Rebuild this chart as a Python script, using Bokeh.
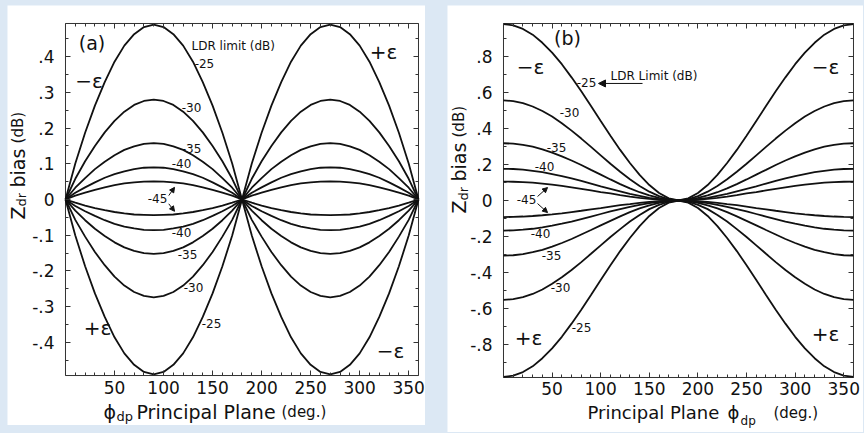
import math
from bokeh.plotting import figure
from bokeh.models import (Range1d, FixedTicker, LinearAxis, Label, Arrow,
                          NormalHead, GlobalInlineStyleSheet)
from bokeh.layouts import row
from bokeh.embed import file_html
from bokeh.resources import INLINE

# ---------------- data ----------------
phi_deg = list(range(0, 361, 10))

# panel (a): Zdr bias (dB) vs phi_dp, principal plane
a_m25_pos = [0, .101, .187, .263, .329, .386, .431, .463, .483, .490, .483, .463, .431, .386, .329, .263, .187, .101, 0,
             .101, .187, .263, .329, .386, .431, .463, .483, .490, .483, .463, .431, .386, .329, .263, .187, .101, 0]
a_m30_pos = [0, .058, .107, .150, .188, .220, .246, .265, .276, .280, .276, .265, .246, .220, .188, .150, .107, .058, 0,
             .058, .107, .150, .188, .220, .246, .265, .276, .280, .276, .265, .246, .220, .188, .150, .107, .058, 0]
a_m35_pos = [0, .033, .060, .085, .106, .124, .139, .149, .156, .158, .156, .149, .139, .124, .106, .085, .060, .033, 0,
             .033, .060, .085, .106, .124, .139, .149, .156, .158, .156, .149, .139, .124, .106, .085, .060, .033, 0]
a_m40_pos = [0, .019, .034, .048, .061, .071, .079, .085, .089, .090, .089, .085, .079, .071, .061, .048, .034, .019, 0,
             .019, .034, .048, .061, .071, .079, .085, .089, .090, .089, .085, .079, .071, .061, .048, .034, .019, 0]
a_m45_pos = [0, .011, .019, .027, .034, .040, .045, .048, .050, .051, .050, .048, .045, .040, .034, .027, .019, .011, 0,
             .011, .019, .027, .034, .040, .045, .048, .050, .051, .050, .048, .045, .040, .034, .027, .019, .011, 0]
a_m25_neg = [0, -.101, -.187, -.263, -.329, -.386, -.431, -.463, -.483, -.490, -.483, -.463, -.431, -.386, -.329, -.263, -.187, -.101, 0,
             -.101, -.187, -.263, -.329, -.386, -.431, -.463, -.483, -.490, -.483, -.463, -.431, -.386, -.329, -.263, -.187, -.101, 0]
a_m30_neg = [0, -.057, -.104, -.147, -.184, -.216, -.241, -.259, -.270, -.274, -.270, -.259, -.241, -.216, -.184, -.147, -.104, -.057, 0,
             -.057, -.104, -.147, -.184, -.216, -.241, -.259, -.270, -.274, -.270, -.259, -.241, -.216, -.184, -.147, -.104, -.057, 0]
a_m35_neg = [0, -.031, -.058, -.082, -.102, -.120, -.134, -.144, -.150, -.152, -.150, -.144, -.134, -.120, -.102, -.082, -.058, -.031, 0,
             -.031, -.058, -.082, -.102, -.120, -.134, -.144, -.150, -.152, -.150, -.144, -.134, -.120, -.102, -.082, -.058, -.031, 0]
a_m40_neg = [0, -.018, -.033, -.046, -.058, -.068, -.076, -.081, -.085, -.086, -.085, -.081, -.076, -.068, -.058, -.046, -.033, -.018, 0,
             -.018, -.033, -.046, -.058, -.068, -.076, -.081, -.085, -.086, -.085, -.081, -.076, -.068, -.058, -.046, -.033, -.018, 0]
a_m45_neg = [0, -.009, -.017, -.024, -.030, -.035, -.039, -.042, -.043, -.044, -.043, -.042, -.039, -.035, -.030, -.024, -.017, -.009, 0,
             -.009, -.017, -.024, -.030, -.035, -.039, -.042, -.043, -.044, -.043, -.042, -.039, -.035, -.030, -.024, -.017, -.009, 0]

# panel (b)
b_m25_pos = [.980, .973, .953, .921, .876, .821, .757, .684, .607, .525, .442, .360, .281, .208, .142, .086, .042, .012, 0,
             .012, .042, .086, .142, .208, .281, .360, .442, .525, .607, .684, .757, .821, .876, .921, .953, .973, .980]
b_m30_pos = [.556, .552, .541, .522, .497, .466, .429, .388, .344, .298, .251, .204, .160, .118, .081, .049, .024, .007, 0,
             .007, .024, .049, .081, .118, .160, .204, .251, .298, .344, .388, .429, .466, .497, .522, .541, .552, .556]
b_m35_pos = [.318, .316, .309, .299, .284, .266, .245, .222, .197, .170, .144, .117, .091, .067, .046, .028, .014, .004, 0,
             .004, .014, .028, .046, .067, .091, .117, .144, .170, .197, .222, .245, .266, .284, .299, .309, .316, .318]
b_m40_pos = [.176, .175, .171, .165, .157, .147, .136, .123, .109, .094, .079, .065, .051, .037, .026, .015, .008, .002, 0,
             .002, .008, .015, .026, .037, .051, .065, .079, .094, .109, .123, .136, .147, .157, .165, .171, .175, .176]
b_m45_pos = [.105, .104, .102, .099, .094, .088, .081, .073, .065, .056, .047, .039, .030, .022, .015, .009, .005, .001, 0,
             .001, .005, .009, .015, .022, .030, .039, .047, .056, .065, .073, .081, .088, .094, .099, .102, .104, .105]
b_m25_neg = [-.980, -.973, -.953, -.921, -.876, -.821, -.757, -.684, -.607, -.525, -.442, -.360, -.281, -.208, -.142, -.086, -.042, -.012, 0,
             -.012, -.042, -.086, -.142, -.208, -.281, -.360, -.442, -.525, -.607, -.684, -.757, -.821, -.876, -.921, -.953, -.973, -.980]
b_m30_neg = [-.552, -.548, -.537, -.519, -.494, -.462, -.426, -.386, -.342, -.296, -.249, -.203, -.159, -.117, -.080, -.048, -.024, -.007, 0,
             -.007, -.024, -.048, -.080, -.117, -.159, -.203, -.249, -.296, -.342, -.386, -.426, -.462, -.494, -.519, -.537, -.548, -.552]
b_m35_neg = [-.306, -.304, -.298, -.287, -.274, -.256, -.236, -.214, -.189, -.164, -.138, -.113, -.088, -.065, -.044, -.027, -.013, -.004, 0,
             -.004, -.013, -.027, -.044, -.065, -.088, -.113, -.138, -.164, -.189, -.214, -.236, -.256, -.274, -.287, -.298, -.304, -.306]
b_m40_neg = [-.167, -.166, -.162, -.157, -.149, -.140, -.129, -.117, -.103, -.089, -.075, -.061, -.048, -.035, -.024, -.015, -.007, -.002, 0,
             -.002, -.007, -.015, -.024, -.035, -.048, -.061, -.075, -.089, -.103, -.117, -.129, -.140, -.149, -.157, -.162, -.166, -.167]
b_m45_neg = [-.092, -.091, -.089, -.086, -.082, -.077, -.071, -.064, -.057, -.049, -.042, -.034, -.026, -.020, -.013, -.008, -.004, -.001, 0,
             -.001, -.004, -.008, -.013, -.020, -.026, -.034, -.042, -.049, -.057, -.064, -.071, -.077, -.082, -.086, -.089, -.091, -.092]

# axes limits and ticks
x_limits = (0, 360)
a_y_limits = (-0.493, 0.493)
b_y_limits = (-0.983, 0.983)
x_ticks = [50, 100, 150, 200, 250, 300, 350]
x_minor = list(range(0, 361, 10))
a_y_ticks = [-0.4, -0.3, -0.2, -0.1, 0, 0.1, 0.2, 0.3, 0.4]
a_y_labels = ["-.4", "-.3", "-.2", "-.1", "0", ".1", ".2", ".3", ".4"]
a_y_minor = [-0.45, -0.35, -0.25, -0.15, -0.05, 0.05, 0.15, 0.25, 0.35, 0.45]
b_y_ticks = [-0.8, -0.6, -0.4, -0.2, 0, 0.2, 0.4, 0.6, 0.8]
b_y_labels = ["-.8", "-.6", "-.4", "-.2", "0", ".2", ".4", ".6", ".8"]
b_y_minor = [-0.9, -0.7, -0.5, -0.3, -0.1, 0.1, 0.3, 0.5, 0.7, 0.9]

ldr_levels = ["-25", "-30", "-35", "-40", "-45"]

# ---------------- style ----------------
FONT = "DejaVu Sans"
INK = "#111111"
AXC = "#333333"
BG = "#dce8f4"


def tick_axis(p, loc, fixed, bounds, majors, minors, labels=None, standoff=5):
    """Axis pinned to the plot box; ticks point inwards."""
    if labels is None:
        # unlabeled mirror side: long ticks at majors, short at minors
        for pos, ln in [(majors, 5), (minors, 3)]:
            ax = LinearAxis(ticker=FixedTicker(ticks=[], minor_ticks=pos),
                            fixed_location=fixed, bounds=bounds)
            ax.axis_line_color = None
            ax.major_tick_line_color = None
            ax.minor_tick_line_color = AXC
            ax.minor_tick_in = ln
            ax.minor_tick_out = 0
            p.add_layout(ax, loc)
        return
    ax = LinearAxis(ticker=FixedTicker(ticks=majors, minor_ticks=minors),
                    fixed_location=fixed, bounds=bounds)
    ax.axis_line_color = None
    ax.major_tick_line_color = AXC
    ax.minor_tick_line_color = AXC
    ax.major_tick_in = 5
    ax.major_tick_out = 0
    ax.minor_tick_in = 3
    ax.minor_tick_out = 0
    ax.major_label_text_font = FONT
    ax.major_label_text_font_size = "17px"
    ax.major_label_text_color = INK
    ax.major_label_standoff = standoff
    if labels != "auto":
        ax.major_label_overrides = dict(zip(majors, labels))
    p.add_layout(ax, loc)


def make_panel(width, height, xr, yr, ylim, yticks, ylabels, yminor):
    p = figure(width=width, height=height, x_range=Range1d(*xr), y_range=Range1d(*yr),
               output_backend="svg", toolbar_location=None,
               x_axis_type=None, y_axis_type=None, min_border=0)
    p.background_fill_color = "white"
    p.border_fill_color = "white"
    p.outline_line_color = None
    # plot box
    p.quad(left=[x_limits[0]], right=[x_limits[1]], bottom=[ylim[0]], top=[ylim[1]],
           fill_color=None, line_color=AXC, line_width=1)
    tick_axis(p, "below", ylim[0], x_limits, x_ticks, x_minor, labels="auto", standoff=5)
    tick_axis(p, "above", ylim[1], x_limits, x_ticks, x_minor)
    tick_axis(p, "left", x_limits[0], ylim, yticks, yminor, labels=ylabels, standoff=11)
    tick_axis(p, "right", x_limits[1], ylim, yticks, yminor)
    return p


def lab(p, x, y, text, size, align="center", baseline="middle", angle=0.0, style="normal"):
    p.add_layout(Label(x=x, y=y, text=text, text_font=FONT, text_font_size=size,
                       text_align=align, text_baseline=baseline, angle=angle,
                       text_color=INK, text_font_style=style))


def arrow(p, x0, y0, x1, y1, size=5):
    p.add_layout(Arrow(end=NormalHead(size=size, fill_color=INK, line_color=INK, line_width=1),
                       x_start=x0, y_start=y0, x_end=x1, y_end=y1,
                       line_color=INK, line_width=1))


UP = math.pi / 2

# ---------------- panel (a) ----------------
pa = make_panel(418, 420, (-59.15, 367.14), (-0.633, 0.5434), a_y_limits,
                a_y_ticks, a_y_labels, a_y_minor)
for ys in [a_m25_pos, a_m30_pos, a_m35_pos, a_m40_pos, a_m45_pos,
           a_m25_neg, a_m30_neg, a_m35_neg, a_m40_neg, a_m45_neg]:
    pa.line(phi_deg, ys, line_color=INK, line_width=1.8)

lab(pa, 27.0, 0.437, "(a)", "19px")
lab(pa, 24.0, 0.333, "\u2212\u03b5", "20px")
lab(pa, 324.3, 0.412, "+\u03b5", "20px")
lab(pa, 32.6, -0.361, "+\u03b5", "20px")
lab(pa, 331.4, -0.423, "\u2212\u03b5", "20px")
lab(pa, 128.5, 0.429, "LDR limit (dB)", "12px", align="left")
for (x, y), t in zip([(141.7, 0.381), (128.5, 0.258), (128.5, 0.143), (118.3, 0.101), (93.8, 0.003)], ldr_levels):
    lab(pa, x, y, t, "12px")
for (x, y), t in zip([(148.9, -0.347), (130.5, -0.246), (124.4, -0.154), (118.3, -0.092)], ldr_levels[:4]):
    lab(pa, x, y, t, "12px")
arrow(pa, 105.3, 0.011, 111.2, 0.034)
arrow(pa, 105.3, -0.012, 111.2, -0.033)

# axis titles (a)
lab(pa, -48.95, -0.056, "Z", "19px", align="left", baseline="alphabetic", angle=UP)
lab(pa, -44.9, -0.0196, "dr", "13px", align="left", baseline="alphabetic", angle=UP)
lab(pa, -48.95, 0.0336, "bias", "19px", align="left", baseline="alphabetic", angle=UP)
lab(pa, -48.95, 0.157, "(dB)", "15px", align="left", baseline="alphabetic", angle=UP)
lab(pa, 38.75, -0.5938, "\u03d5", "19px", align="left", baseline="alphabetic")
lab(pa, 52.0, -0.6078, "dp", "13px", align="left", baseline="middle")
lab(pa, 72.4, -0.5938, "Principal Plane", "19px", align="left", baseline="alphabetic")
lab(pa, 220.3, -0.5938, "(deg.)", "15px", align="left", baseline="alphabetic")

# ---------------- panel (b) ----------------
pb = make_panel(416, 427, (-57.6, 370.29), (-1.2885, 1.083), b_y_limits,
                b_y_ticks, b_y_labels, b_y_minor)
for ys in [b_m25_pos, b_m30_pos, b_m35_pos, b_m40_pos, b_m45_pos,
           b_m25_neg, b_m30_neg, b_m35_neg, b_m40_neg, b_m45_neg]:
    pb.line(phi_deg, ys, line_color=INK, line_width=1.8)

lab(pb, 65.8, 0.90, "(b)", "19px")
lab(pb, 27.8, 0.744, "\u2212\u03b5", "20px")
lab(pb, 331.2, 0.739, "\u2212\u03b5", "20px")
lab(pb, 25.7, -0.761, "+\u03b5", "20px")
lab(pb, 331.2, -0.739, "+\u03b5", "20px")
lab(pb, 110.1, 0.694, "LDR Limit (dB)", "12px", align="left")
arrow(pb, 143.0, 0.65, 97.7, 0.65, size=7)
for (x, y), t in zip([(85.4, 0.656), (67.9, 0.489), (54.5, 0.294), (42.2, 0.189), (23.7, 0.006)], ldr_levels):
    lab(pb, x, y, t, "12px")
for (x, y), t in zip([(80.2, -0.706), (58.6, -0.483), (49.4, -0.306), (38.1, -0.183)], ldr_levels[:4]):
    lab(pb, x, y, t, "12px")
arrow(pb, 35.0, 0.022, 45.3, 0.072)
arrow(pb, 35.0, -0.017, 45.3, -0.067)

lab(pb, -45.26, -0.0722, "Z", "19px", align="left", baseline="alphabetic", angle=UP)
lab(pb, -41.1, 0.0, "dr", "13px", align="left", baseline="alphabetic", angle=UP)
lab(pb, -45.26, 0.1056, "bias", "19px", align="left", baseline="alphabetic", angle=UP)
lab(pb, -45.26, 0.35, "(dB)", "15px", align="left", baseline="alphabetic", angle=UP)
lab(pb, 86.4, -1.178, "Principal Plane", "18px", align="left", baseline="alphabetic")
lab(pb, 230.4, -1.178, "\u03d5", "18px", align="left", baseline="alphabetic")
lab(pb, 243.8, -1.222, "dp", "12px", align="left", baseline="middle")
lab(pb, 277.7, -1.178, "(deg.)", "15px", align="left", baseline="alphabetic")

pa.margin = (5, 22, 0, 7)
pb.margin = (5, 0, 0, 0)

layout = row(pa, pb)
layout.stylesheets = [GlobalInlineStyleSheet(
    css="html, body { margin: 0 !important; padding: 0; background: %s; overflow: hidden; }" % BG)]

open("out.html", "w").write(file_html(layout, INLINE))
